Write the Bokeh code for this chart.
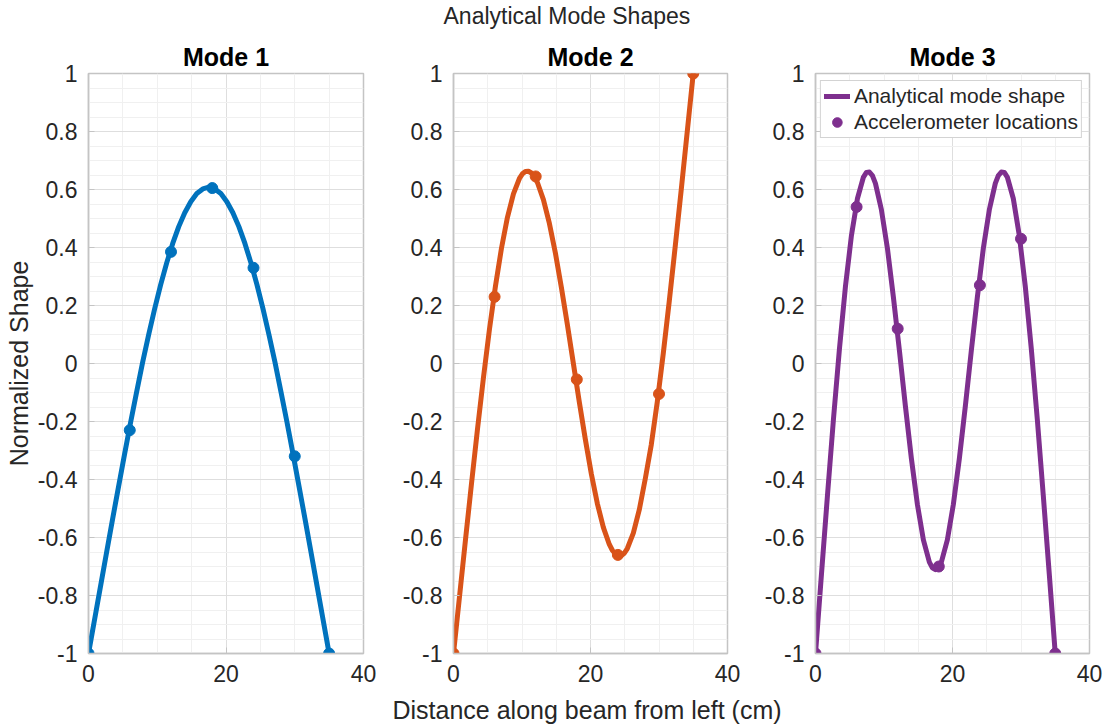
from bokeh.plotting import figure
from bokeh.layouts import row, column
from bokeh.models import Range1d, FixedTicker, Legend, LegendItem
from bokeh.embed import file_html
from bokeh.resources import INLINE

FONT = "Liberation Sans"

suptitle = "Analytical Mode Shapes"
mode_titles = ["Mode 1", "Mode 2", "Mode 3"]
colors = ["#0072BD", "#D95319", "#7E2F8E"]
x_label = "Distance along beam from left (cm)"
y_label = "Normalized Shape"
legend_labels = ["Analytical mode shape", "Accelerometer locations"]

# analytical curves
x_curve1 = [0, 0.875, 1.75, 2.625, 3.5, 4.375, 5.25, 6.125, 7, 7.875, 8.75,
            9.625, 10.5, 11.375, 12.25, 13.125, 14, 14.875, 15.75, 16.625, 17.5,
            18.375, 19.25, 20.125, 21, 21.875, 22.75, 23.625, 24.5, 25.375, 26.25,
            27.125, 28, 28.875, 29.75, 30.625, 31.5, 32.375, 33.25, 34.125, 35]
y_curve1 = [-1, -0.884, -0.768, -0.652, -0.537, -0.424, -0.312, -0.203, -0.098, 0.004, 0.099,
            0.189, 0.272, 0.347, 0.414, 0.472, 0.520, 0.558, 0.586, 0.602, 0.608,
            0.602, 0.586, 0.558, 0.520, 0.472, 0.414, 0.347, 0.272, 0.189, 0.099,
            0.004, -0.098, -0.203, -0.312, -0.424, -0.537, -0.652, -0.768, -0.884, -1]

x_curve2 = [0, 0.875, 1.75, 2.625, 3.5, 4.375, 5.25, 6.125, 7, 7.875, 8.75,
            9.625, 10.0625, 10.5, 10.9375, 11.375, 11.8125, 12.25, 13.125, 14, 14.875,
            15.75, 16.625, 17.5, 18.375, 19.25, 20.125, 21, 21.875, 22.75, 23.1875,
            23.625, 24.0625, 24.5, 24.9375, 25.375, 26.25, 27.125, 28, 28.875, 29.75,
            30.625, 31.5, 32.375, 33.25, 34.125, 35]
y_curve2 = [-1, -0.804, -0.608, -0.415, -0.227, -0.048, 0.118, 0.267, 0.397, 0.504, 0.585,
            0.638, 0.654, 0.662, 0.663, 0.657, 0.644, 0.624, 0.565, 0.483, 0.381,
            0.262, 0.134, 0.0, -0.134, -0.262, -0.381, -0.483, -0.565, -0.624, -0.644,
            -0.657, -0.663, -0.662, -0.654, -0.638, -0.585, -0.504, -0.397, -0.28, -0.132,
            0.035, 0.215, 0.405, 0.60, 0.80, 1]

x_curve3 = [0, 0.875, 1.75, 2.625, 3.5, 4.375, 5.25, 6.125, 7, 7.4375, 7.875, 8.3125, 8.75,
            9.625, 10.5, 11.375, 12.25, 13.125, 14, 14.875, 15.75, 16.625, 17.0625, 17.5,
            17.9375, 18.375, 19.25, 20.125, 21, 21.875, 22.75, 23.625, 24.5, 25.375, 26.25,
            26.6875, 27.125, 27.5625, 28, 28.875, 29.75, 30.625, 31.5, 32.375, 33.25,
            34.125, 35]
y_curve3 = [-1, -0.725, -0.454, -0.191, 0.052, 0.266, 0.442, 0.569, 0.643, 0.659, 0.660, 0.648, 0.621,
            0.530, 0.397, 0.228, 0.045, -0.147, -0.328, -0.486, -0.608, -0.685, -0.705, -0.711,
            -0.705, -0.685, -0.608, -0.486, -0.328, -0.147, 0.045, 0.228, 0.397, 0.530, 0.621,
            0.648, 0.660, 0.659, 0.643, 0.569, 0.442, 0.266, 0.052, -0.191, -0.454,
            -0.725, -1]

# accelerometer locations
x_sensor = [0, 6, 12, 18, 24, 30, 35]
y_sensor1 = [-1, -0.23, 0.385, 0.605, 0.33, -0.32, -1]
y_sensor2 = [-1, 0.23, 0.645, -0.055, -0.66, -0.105, 1]
y_sensor3 = [-1, 0.54, 0.12, -0.70, 0.27, 0.43, -1]

x_ticks = [0, 20, 40]
x_tick_labels = ["0", "20", "40"]
x_minor = [5, 10, 15, 25, 30, 35]
y_ticks = [-1, -0.8, -0.6, -0.4, -0.2, 0, 0.2, 0.4, 0.6, 0.8, 1]
y_tick_labels = ["-1", "-0.8", "-0.6", "-0.4", "-0.2", "0", "0.2", "0.4", "0.6", "0.8", "1"]
y_minor = [-0.95, -0.9, -0.85, -0.75, -0.7, -0.65, -0.55, -0.5, -0.45, -0.35, -0.3, -0.25,
           -0.15, -0.1, -0.05, 0.05, 0.1, 0.15, 0.25, 0.3, 0.35, 0.45, 0.5, 0.55,
           0.65, 0.7, 0.75, 0.85, 0.9, 0.95]

curves = [(x_curve1, y_curve1), (x_curve2, y_curve2), (x_curve3, y_curve3)]
sensors = [y_sensor1, y_sensor2, y_sensor3]

HEADER_H = 34
FOOTER_H = 32
TOTAL_H = 725
TOP = 73 - HEADER_H
BOTTOM = 72 - FOOTER_H
borders = [(88, 36), (52, 34), (52, 19)]
frame_w = [275, 276, 276]

TICK_COLOR = "#262626"
FRAME_COLOR = "#c4c4c4"


def text_strip(text, height, offset, size):
    f = figure(width=1108, height=height, toolbar_location=None, output_backend="svg",
               x_range=Range1d(0, 1), y_range=Range1d(0, 1),
               min_border_left=0, min_border_right=0, min_border_top=0, min_border_bottom=0)
    f.axis.visible = False
    f.grid.visible = False
    f.outline_line_color = None
    f.title.text = text
    f.title.align = "left"
    f.title.offset = offset
    f.title.text_font = FONT
    f.title.text_font_size = size
    f.title.text_font_style = "normal"
    f.title.text_color = TICK_COLOR
    f.title.standoff = 0
    return f


header = text_strip(suptitle, HEADER_H, 443, "23px")
footer = text_strip(x_label, FOOTER_H, 392, "25px")

figs = []
for i in range(3):
    left, right = borders[i]
    p = figure(width=left + frame_w[i] + right, height=TOTAL_H - HEADER_H - FOOTER_H,
               toolbar_location=None, output_backend="svg",
               x_range=Range1d(0, 40), y_range=Range1d(-1, 1),
               min_border_left=left, min_border_right=right,
               min_border_top=TOP, min_border_bottom=BOTTOM)
    p.title.text = mode_titles[i]
    p.title.align = "center"
    p.title.text_font = FONT
    p.title.text_font_size = "25px"
    p.title.text_font_style = "bold"
    p.title.text_color = "#000000"
    p.title.standoff = 5

    p.outline_line_color = FRAME_COLOR
    p.outline_line_width = 1.5

    xax = p.xaxis[0]
    yax = p.yaxis[0]
    xax.ticker = FixedTicker(ticks=x_ticks, minor_ticks=x_minor)
    yax.ticker = FixedTicker(ticks=y_ticks, minor_ticks=y_minor)
    xax.major_label_overrides = dict(zip(x_ticks, x_tick_labels))
    yax.major_label_overrides = dict(zip(y_ticks, y_tick_labels))

    for ax in (xax, yax):
        ax.axis_line_color = FRAME_COLOR
        ax.axis_line_width = 1.5
        ax.major_tick_in = 6
        ax.major_tick_out = 0
        ax.major_tick_line_color = FRAME_COLOR
        ax.minor_tick_line_color = None
        ax.major_label_text_font = FONT
        ax.major_label_text_font_size = "23px"
        ax.major_label_text_color = TICK_COLOR
        ax.major_label_standoff = 7
        ax.axis_label_text_font = FONT
        ax.axis_label_text_font_size = "25px"
        ax.axis_label_text_font_style = "normal"
        ax.axis_label_text_color = TICK_COLOR

    if i == 0:
        yax.axis_label = y_label
        yax.axis_label_standoff = 2

    p.xgrid.grid_line_color = "#dedede"
    p.ygrid.grid_line_color = "#dedede"
    p.xgrid.minor_grid_line_color = "#f0f0f0"
    p.ygrid.minor_grid_line_color = "#f0f0f0"

    xc, yc = curves[i]
    ln = p.line(xc, yc, line_color=colors[i], line_width=5,
                line_join="round", line_cap="round")
    sc = p.scatter(x_sensor, sensors[i], marker="circle", size=11,
                   fill_color=colors[i], line_color=colors[i])

    if i == 2:
        legend = Legend(items=[LegendItem(label=legend_labels[0], renderers=[ln]),
                               LegendItem(label=legend_labels[1], renderers=[sc])],
                        location="top_right", margin=7, padding=3, spacing=2,
                        glyph_width=26, glyph_height=24, label_height=24,
                        label_standoff=4, label_text_font=FONT,
                        label_text_font_size="21px", label_text_color=TICK_COLOR,
                        border_line_color="#a8a8a8", border_line_width=1.5,
                        background_fill_color="white", background_fill_alpha=1)
        p.add_layout(legend, "center")
    figs.append(p)

layout = column(header, row(*figs, spacing=0), footer, spacing=0)
open("out.html", "w").write(file_html(layout, INLINE))
